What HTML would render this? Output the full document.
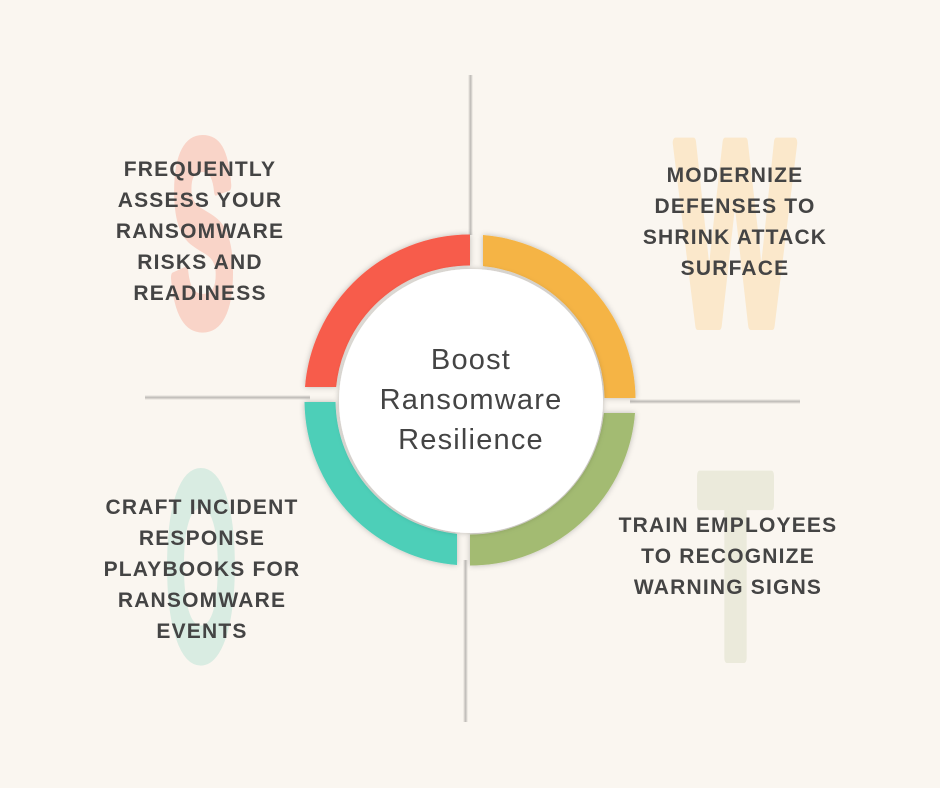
<!DOCTYPE html>
<html><head><meta charset="utf-8"><style>
html,body{margin:0;padding:0;}
body{width:940px;height:788px;background:#faf6f0;overflow:hidden;position:relative;font-family:"Liberation Sans",sans-serif;}
svg{position:absolute;left:0;top:0;}
.lbl{position:absolute;text-align:center;font-weight:bold;font-size:21px;line-height:31px;color:#444;letter-spacing:1.2px;white-space:nowrap;}
.ctr{position:absolute;left:340px;top:340px;width:262px;text-align:center;font-size:29px;line-height:40px;color:#444;letter-spacing:1.2px;}
</style></head><body>
<svg width="940" height="788" viewBox="0 0 940 788">
<defs>
<linearGradient id="vg" x1="0" x2="1"><stop offset="0" stop-color="#faf6f0"/><stop offset=".5" stop-color="#bdbab6"/><stop offset="1" stop-color="#faf6f0"/></linearGradient>
<linearGradient id="hg" x1="0" x2="0" y1="0" y2="1"><stop offset="0" stop-color="#faf6f0"/><stop offset=".5" stop-color="#bdbab6"/><stop offset="1" stop-color="#faf6f0"/></linearGradient>
<filter id="sh" x="-20%" y="-20%" width="140%" height="140%"><feDropShadow dx="0" dy="0" stdDeviation="3" flood-color="#000" flood-opacity=".25"/></filter>
<clipPath id="cr"><rect x="0" y="0" width="470" height="387"/></clipPath>
<clipPath id="co"><rect x="483" y="0" width="460" height="398"/></clipPath>
<clipPath id="cg"><rect x="470" y="413" width="470" height="400"/></clipPath>
<clipPath id="ct"><rect x="0" y="402" width="457" height="400"/></clipPath>
</defs>
<g font-family="Liberation Sans" font-weight="bold" font-size="265" stroke-width="10" stroke-linejoin="round">
<text x="170" y="325" textLength="65" lengthAdjust="spacingAndGlyphs" fill="#f9d4c8" stroke="#f9d4c8">S</text>
<text x="675" y="325" textLength="120" lengthAdjust="spacingAndGlyphs" fill="#fbe8cb" stroke="#fbe8cb">W</text>
<text x="698" y="658" textLength="75" lengthAdjust="spacingAndGlyphs" fill="#ebeadb" stroke="#ebeadb">T</text>
<text x="165" y="658" textLength="72" lengthAdjust="spacingAndGlyphs" fill="#d9ece2" stroke="#d9ece2">O</text>
</g>
<rect x="468" y="75" width="5" height="160" fill="url(#vg)"/>
<rect x="463" y="560" width="5" height="162" fill="url(#vg)"/>
<rect x="145" y="395" width="165" height="5" fill="url(#hg)"/>
<rect x="630" y="399" width="170" height="5" fill="url(#hg)"/>
<g filter="url(#sh)">
<circle cx="470" cy="400" r="150" fill="none" stroke="#f75b4b" stroke-width="31" clip-path="url(#cr)"/>
<circle cx="470" cy="400" r="150" fill="none" stroke="#f5b445" stroke-width="31" clip-path="url(#co)"/>
<circle cx="470" cy="400" r="150" fill="none" stroke="#a3bb72" stroke-width="31" clip-path="url(#cg)"/>
<circle cx="470" cy="400" r="150" fill="none" stroke="#4ecfb8" stroke-width="31" clip-path="url(#ct)"/>
</g>
<circle cx="471" cy="401" r="132" fill="#fff" filter="url(#sh)"/>
</svg>
<div class="ctr">Boost<br>Ransomware<br>Resilience</div>
<div class="lbl" style="left:100px;width:200px;top:154px;">FREQUENTLY<br>ASSESS YOUR<br>RANSOMWARE<br>RISKS AND<br>READINESS</div>
<div class="lbl" style="left:635px;width:200px;top:160px;">MODERNIZE<br>DEFENSES TO<br>SHRINK ATTACK<br>SURFACE</div>
<div class="lbl" style="left:618px;width:220px;top:510px;">TRAIN EMPLOYEES<br>TO RECOGNIZE<br>WARNING SIGNS</div>
<div class="lbl" style="left:92px;width:220px;top:492px;">CRAFT INCIDENT<br>RESPONSE<br>PLAYBOOKS FOR<br>RANSOMWARE<br>EVENTS</div>
</body></html>
